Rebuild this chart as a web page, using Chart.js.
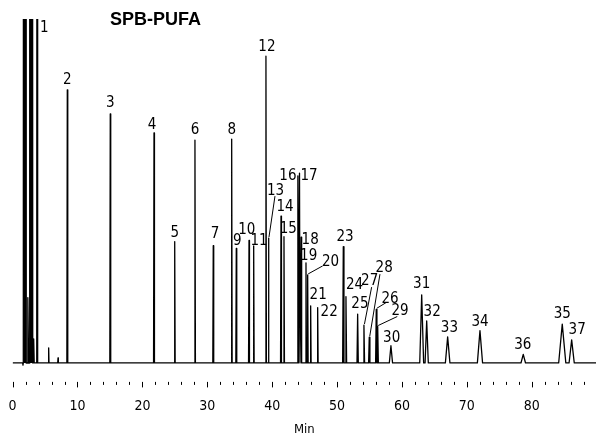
<!DOCTYPE html>
<html>
<head>
<meta charset="utf-8">
<script src="https://cdn.jsdelivr.net/npm/chart.js@4"></script>
<style>
  html, body { margin: 0; padding: 0; background: #fff; }
  #wrap { width: 596px; height: 435px; }
</style>
</head>
<body>
<div id="wrap"><canvas id="chart"></canvas></div>
<script>
// peak names in elution order, retention times (min), heights (% of full scale), half base width (min)
const peakNames = ['1', '2', '3', '4', '5', '6', '7', '8', '9', '10', '11', '12', '13', '14', '15', '16', '17', '18', '19', '20',
    '21', '22', '23', '24', '25', '27', '28', '26', '29', '30', '31', '32', '33', '34', '36', '35', '37'];
const peakTimes = [3.79, 8.43, 15.05, 21.79, 24.98, 28.10, 30.92, 33.76, 34.47, 36.43, 37.15, 39.04, 39.43, 41.36, 41.82, 43.96, 44.21, 44.47, 45.21, 45.47,
    45.93, 47.01, 50.96, 51.37, 53.17, 54.14, 54.96, 56.04, 56.26, 58.30, 63.04, 63.81, 67.04, 72.02, 78.69, 84.70, 86.15];
const peakHeights = [400, 79.4, 72.4, 66.9, 35.3, 64.8, 34.1, 65.1, 33.3, 35.6, 34.0, 89.2, 36.3, 42.7, 36.7, 54.4, 55.2, 36.6, 29.1, 25.6,
    16.6, 16.1, 33.8, 19.3, 14.2, 11.0, 7.5, 15.6, 10.6, 5.0, 19.8, 12.2, 7.6, 9.4, 2.5, 11.3, 6.7];
const peakWidths = [0.07, 0.07, 0.07, 0.07, 0.07, 0.07, 0.07, 0.07, 0.07, 0.07, 0.07, 0.07, 0.07, 0.07, 0.07, 0.08, 0.08, 0.07, 0.07, 0.07,
    0.07, 0.07, 0.1, 0.1, 0.1, 0.1, 0.1, 0.1, 0.1, 0.25, 0.3, 0.25, 0.35, 0.4, 0.35, 0.55, 0.4];

// solvent front and small unlabelled peaks
const solventTimes = [1.91, 2.87];
const solventHeights = [2000, 2000];
const solventWidths = [0.17, 0.22];
const minorTimes = [1.6, 2.35, 3.25, 5.56, 7.0];
const minorHeights = [-0.6, 19, 7, 4.4, 1.5];
const minorWidths = [0.05, 0.12, 0.08, 0.05, 0.05];

const runStart = 0;
const runEnd = 89.9;
const xTicks = [0, 10, 20, 30, 40, 50, 60, 70, 80];

// label placement (px from the apex) and leader lines
const labelNudge = {
    '1': [7, 7.5], '2': [0, -11], '3': [0, -12], '4': [-2, -9.5], '5': [0, -10], '6': [0, -11], '7': [1.7, -13],
    '8': [0, -10], '9': [1, -9], '10': [-2.3, -12], '11': [5.3, -6], '12': [1, -10], '13': [7, -48], '14': [4, -10],
    '15': [4.3, -9], '16': [-10, -1], '17': [9.5, 2], '18': [9, 2], '19': [2.7, -8], '20': [22.8, -14], '21': [7.5, -12],
    '22': [11.5, 3.6], '23': [1.7, -10.7], '24': [8.5, -13], '25': [2.3, -11], '27': [5.7, -45.5], '28': [14.9, -70],
    '26': [13.7, -12.1], '29': [22.3, -16.4], '30': [0.7, -9.5], '31': [0, -12], '32': [5.5, -10.5], '33': [1.8, -10],
    '34': [0, -9.5], '36': [-0.5, -11], '35': [0, -11.5], '37': [5.5, -11]
};
const leaders = {
    '13': [6.5, -42], '20': [15, -9], '27': [7.7, -38], '28': [10.7, -63], '26': [9.7, -6.6], '29': [19.6, -10]
};

const narrowFont = '"Liberation Sans Narrow", "DejaVu Sans Condensed", "Liberation Sans", sans-serif';

// every peak is start / apex / end on the baseline
const peakPoints = (times, heights, widths) => {
    let pts = [];
    times.forEach((t, i) => {
        pts.push({x: t - widths[i], y: 0});
        pts.push({x: t, y: heights[i]});
        pts.push({x: t + widths[i], y: 0});
    });
    return pts;
};

const buildTrace = () => {
    let pts = [{x: runStart, y: 0}, {x: runEnd, y: 0}]
        .concat(peakPoints(solventTimes, solventHeights, solventWidths))
        .concat(peakPoints(minorTimes, minorHeights, minorWidths))
        .concat(peakPoints(peakTimes, peakHeights, peakWidths));
    pts.sort((a, b) => a.x - b.x);
    return pts;
};

const peakLabels = {
    id: 'peakLabels',
    afterDatasetsDraw(chart) {
        const {ctx, chartArea} = chart;
        const x = chart.scales.x, y = chart.scales.y;
        ctx.save();
        ctx.fillStyle = '#000';
        ctx.strokeStyle = '#000';
        ctx.lineWidth = 1;
        ctx.font = '15px ' + narrowFont;
        ctx.textAlign = 'center';
        ctx.textBaseline = 'alphabetic';
        peakNames.forEach((name, i) => {
            const px = x.getPixelForValue(peakTimes[i]);
            const py = Math.max(y.getPixelForValue(peakHeights[i]), chartArea.top);
            const n = labelNudge[name] || [0, -11];
            ctx.fillText(name, px + n[0], py + n[1] + 5.3);
            const l = leaders[name];
            if (l) {
                ctx.beginPath();
                ctx.moveTo(px + 0.5, py - 1);
                ctx.lineTo(px + l[0], py + l[1]);
                ctx.stroke();
            }
        });
        // title
        ctx.font = 'bold 18px "Liberation Sans", Arial, sans-serif';
        ctx.fillText('SPB-PUFA', 155.5, 25);
        ctx.restore();
    }
};

// major ticks every 10 min, minor every 2 min, drawn on a row below the trace
const tickRow = {
    id: 'tickRow',
    afterDraw(chart) {
        const {ctx, chartArea} = chart;
        const x = chart.scales.x;
        const top = chartArea.bottom + 15.5;
        ctx.save();
        ctx.strokeStyle = '#000';
        ctx.lineWidth = 1;
        for (let t = 0; t <= 90; t += 2) {
            const px = Math.round(x.getPixelForValue(t)) + 0.5;
            const len = t % 10 === 0 ? 5.5 : 3;
            ctx.beginPath();
            ctx.moveTo(px, top);
            ctx.lineTo(px, top + len);
            ctx.stroke();
        }
        ctx.restore();
    }
};

document.addEventListener('DOMContentLoaded', () => {
    const ctx = document.getElementById('chart');
    new Chart(ctx, {
        type: 'line',
        data: {
            datasets: [{
                data: buildTrace(),
                borderColor: '#000',
                borderWidth: 1.3,
                borderJoinStyle: 'round',
                pointRadius: 0,
                tension: 0,
                fill: false
            }, {
                // solvent front drawn solid
                data: peakPoints(solventTimes, solventHeights, solventWidths),
                borderColor: '#000',
                backgroundColor: '#000',
                borderWidth: 1,
                pointRadius: 0,
                tension: 0,
                fill: 'origin'
            }]
        },
        options: {
            responsive: true,
            maintainAspectRatio: false,
            animation: false,
            events: [],
            layout: {padding: {top: 19, left: 12.6, right: 0, bottom: 0}},
            plugins: {legend: {display: false}, tooltip: {enabled: false}},
            scales: {
                x: {
                    type: 'linear',
                    min: runStart,
                    max: runEnd,
                    border: {display: false},
                    grid: {display: false, drawTicks: false},
                    afterBuildTicks: (scale) => {
                        scale.ticks = xTicks.map(v => ({value: v}));
                    },
                    afterFit: (scale) => {
                        scale.height = 68.6;
                        scale.paddingLeft = 0;
                        scale.paddingRight = 0;
                    },
                    ticks: {
                        padding: 32,
                        color: '#000',
                        maxRotation: 0,
                        autoSkip: false,
                        font: {family: narrowFont, size: 14}
                    },
                    title: {
                        display: true,
                        text: 'Min',
                        color: '#000',
                        padding: {top: 0, bottom: -1},
                        font: {family: narrowFont, size: 13, lineHeight: 1}
                    }
                },
                y: {
                    display: false,
                    min: -1,
                    max: 100
                }
            }
        },
        plugins: [peakLabels, tickRow]
    });
});
</script>
</body>
</html>
